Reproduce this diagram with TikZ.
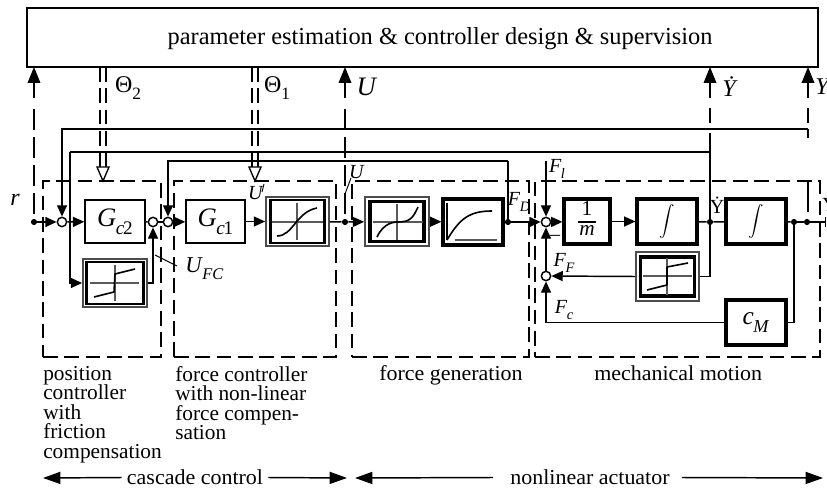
\documentclass[tikz,border=0pt]{standalone}
\usepackage{fontspec}
\setmainfont{Liberation Serif}
\usetikzlibrary{arrows.meta}
\newcommand{\fs}[1]{\fontsize{#1}{#1}\selectfont}
\newcommand{\isub}[2]{\textit{#1}\kern-0.02em\raisebox{-0.3em}{\scalebox{0.72}{\textit{#2}}}}
\newcommand{\numsub}[1]{\raisebox{-0.3em}{\scalebox{0.72}{#1}}}
\newcommand{\wider}[1]{\scalebox{1.03}[1]{#1}}
\tikzset{
  x=0.75pt,y=-0.75pt,
  sig/.style={line width=1.1pt,-{Triangle[length=8.5pt,width=7.5pt]}},
  lin/.style={line width=1.1pt},
  bigarr/.style={line width=1.1pt,-{Triangle[length=12pt,width=9.5pt]}},
  dashsig/.style={line width=1.1pt,dash pattern=on 15.75pt off 5.25pt},
  paramdash/.style={line width=1pt,dash pattern=on 11pt off 5pt},
  groupbox/.style={draw,line width=1.1pt,dash pattern=on 11pt off 5pt},
  hair/.style={line width=0.7pt},
  axis/.style={line width=0.8pt,black!65},
  curve/.style={line width=1.2pt,line join=round},
  bx/.style n args={2}{draw,line width=1.1pt,inner sep=0pt,minimum width=#1*0.75pt,minimum height=#2*0.75pt},
  tbx/.style n args={2}{draw,line width=2.4pt,inner sep=0pt,minimum width=#1*0.75pt,minimum height=#2*0.75pt},
  ibx/.style n args={2}{draw,line width=1.9pt,inner sep=0pt,minimum width=#1*0.75pt,minimum height=#2*0.75pt},
  obx/.style n args={2}{draw=black!70,line width=1.3pt,inner sep=0pt,minimum width=#1*0.75pt,minimum height=#2*0.75pt},
  sum/.style={circle,draw,fill=white,line width=1.1pt,inner sep=0pt,minimum size=7pt},
  dot/.style={circle,fill=black,inner sep=0pt,minimum size=4.6pt},
  txt/.style={font=\fs{16},inner sep=0pt},
  captxt/.style={font=\fontsize{16}{14.6}\selectfont,inner sep=0pt,align=left,anchor=north west},
  lbl/.style={font=\fs{15},inner sep=0pt},
  bar/.style={line width=1.1pt,-{Triangle[length=13pt,width=9pt]}},
}
\begin{document}
\begin{tikzpicture}
\useasboundingbox (0,0) rectangle (827,488);
% top block
\node[draw,line width=1.1pt,inner sep=0pt,minimum width=791*0.75pt,minimum height=59*0.75pt] (est) at (422.5,37.5) {};
\node[font=\fs{18.3},inner sep=0pt] (esttxt) at (440,38.5) {parameter estimation \& controller design \& supervision};
% group frames
\node[groupbox,inner sep=0pt,minimum width=118*0.75pt,minimum height=176*0.75pt] (ga) at (102,269) {};
\node[groupbox,inner sep=0pt,minimum width=162*0.75pt,minimum height=176*0.75pt] (gb) at (255,269) {};
\node[groupbox,inner sep=0pt,minimum width=177*0.75pt,minimum height=176*0.75pt] (gc) at (440.5,269) {};
\node[groupbox,inner sep=0pt,minimum width=285*0.75pt,minimum height=176*0.75pt] (gd) at (677.5,269) {};
% blocks
\node[bx={60}{43},font=\fs{20}] (gc2) at (115,221.5) {\isub{G}{c}\kern-0.05em\numsub{2}};
\node[bx={59}{43},font=\fs{20}] (gc1) at (215.5,221.5) {\isub{G}{c}\kern-0.05em\numsub{1}};
\node[obx={63}{49}] (sat) at (297.5,221.5) {};
\node[ibx={54}{43}] (satin) at (297.5,221.5) {};
\node[obx={64}{48}] (fric) at (115,283) {};
\node[ibx={57}{42}] (fricin) at (115,283) {};
\node[obx={64}{49}] (fg) at (397,221.5) {};
\node[tbx={54}{40}] (fgin) at (397,221.5) {};
\node[tbx={60}{46}] (fgb) at (473,222) {};
\node[tbx={46}{45},font=\fontsize{16}{14}\selectfont] (mass) at (587,221.5) {\tabcolsep=0.7pt\arrayrulewidth=0.9pt\begin{tabular}{c}1\\\hline\textit{m}\end{tabular}};
\node[tbx={60}{45}] (int1) at (667,221.5) {\scalebox{1.15}{$\displaystyle\int$}};
\node[tbx={60}{45}] (int2) at (756,221.5) {\scalebox{1.15}{$\displaystyle\int$}};
\node[obx={63}{49}] (fricb) at (667.5,276.5) {};
\node[tbx={54}{39}] (fricbin) at (667.5,276.5) {};
\node[tbx={60}{45},font=\fs{19}] (cm) at (756,322.5) {\isub{c}{M}};
% block pictograms
\draw[axis] (272,222) -- (323,222);
\draw[axis] (297,203) -- (297,240);
\draw[curve] (277,236) .. controls (293,236) and (296,212) .. (317,208);
\draw[axis] (373,222) -- (423,222);
\draw[axis] (397,204) -- (397,240);
\draw[curve] (377,237) .. controls (384,222) and (395,222) .. (398,222) .. controls (410,222) and (413,218) .. (418,207);
\draw[line width=1pt] (447,203) -- (447,240);
\draw[axis] (455,240) -- (497,240);
\draw[curve] (447,240) .. controls (460,218) and (470,211) .. (492,211);
\draw[axis] (90,283) -- (139,283);
\draw[axis] (115,265) -- (115,301);
\draw[curve] (94,297) -- (114,292) -- (115,274) -- (135,269);
\draw[axis] (643,276) -- (692,276);
\draw[axis] (667,258) -- (667,295);
\draw[curve] (647,290) -- (667,285) -- (667,267) -- (688,263);
% summing points and branch points
\node[sum] (s1) at (62,222) {};
\node[sum] (s2) at (153,222) {};
\node[sum] (s3) at (168,222) {};
\node[sum] (s4) at (546,222) {};
\node[sum] (s5) at (546,276) {};
\node[dot] (dr) at (34,222) {};
\node[dot] (du) at (345,222) {};
\node[dot] (dfd) at (508,222) {};
\node[dot] (dv) at (710,222) {};
\node[dot] (dp) at (794,222) {};
\node[dot] (dy) at (807,222) {};
\coordinate (yend) at (826,222);
\coordinate (tr) at (34,67);
\coordinate (tu) at (345,67);
\coordinate (tv) at (710,67);
\coordinate (ty) at (808,67);
\coordinate (sr) at (34,98);
\coordinate (su) at (345,98);
\coordinate (sv) at (710,98);
\coordinate (sy) at (808,98);
\coordinate (gr) at (34,109);
\coordinate (gu) at (345,109);
\coordinate (vd1) at (710,108);
\coordinate (vd2) at (710,123);
\coordinate (yd1) at (808,108);
\coordinate (yd2) at (808,123);
\coordinate (jy) at (808,129);
\coordinate (jy2) at (808,138);
\coordinate (jy3) at (808,181);
\coordinate (jy4) at (808,212);
\coordinate (jv) at (710,152);
\coordinate (jv2) at (710,133);
\coordinate (k1) at (70,152);
\coordinate (fl) at (546,161);
\coordinate (jfd) at (508,161);
% main path
\draw[sig] (dr) -- (s1);
\draw[sig] (s1) -- (gc2);
\draw[lin] (gc2) -- (s2);
\draw[lin] (s2) -- (s3);
\draw[sig] (s3) -- (gc1);
\draw[sig] (gc1) -- (sat);
\draw[lin] (sat) -- (du);
\draw[sig] (du) -- (fg);
\draw[sig] (fg) -- (fgb);
\draw[lin] (fgb) -- (dfd);
\draw[sig] (dfd) -- (s4);
\draw[sig] (s4) -- (mass);
\draw[sig] (mass) -- (int1);
\draw[lin] (int1) -- (dv);
\draw[lin] (dv) -- (int2);
\draw[lin] (int2) -- (dp);
\draw[lin] (dp) -- (dy);
\draw[lin,-{Bar[width=7pt]}] (dy) -- (yend);
% friction compensation
\draw[sig] (k1) |- (fric.west);
\draw[sig] (fric.east) -| (s2);
% feedback lines
\draw[sig] (jy) -| (s1);
\draw[lin] (jv) -- (k1);
\draw[sig] (jfd) -| (s3);
\draw[lin] (dfd) -- (jfd);
\draw[sig] (fl) -- (s4);
% mechanical motion
\draw[lin] (jv2) -- (dv);
\draw[lin] (dv) |- (fricb.east);
\draw[sig] (fricb.west) -- (s5);
\draw[sig] (s5) -- (s4);
\draw[sig] (cm.west) -| (s5);
\draw[lin] (cm.east) -| (dp);
% signals up to the estimator
\draw[dashsig] (gr) -- (dr);
\draw[bigarr] (sr) -- (tr);
\draw[dashsig] (gu) -- (du);
\draw[bigarr] (su) -- (tu);
\draw[lin] (vd1) -- (vd2);
\draw[bigarr] (sv) -- (tv);
\draw[lin] (jy4) -- (jy3);
\draw[lin] (jy2) -- (jy);
\draw[lin] (yd1) -- (yd2);
\draw[bigarr] (sy) -- (ty);
% parameter lines
\coordinate (pa1) at (100,67); \coordinate (pa2) at (106,67);
\coordinate (pb1) at (252,67); \coordinate (pb2) at (258,67);
\coordinate (qa1) at (100,167); \coordinate (qa2) at (106,167);
\coordinate (qb1) at (252,167); \coordinate (qb2) at (258,167);
\draw[paramdash] (pa1) -- (qa1);
\draw[paramdash] (pa2) -- (qa2);
\draw[paramdash] (pb1) -- (qb1);
\draw[paramdash] (pb2) -- (qb2);
\coordinate (tipa) at (103,181);
\coordinate (tipb) at (255,181);
\draw[line width=1pt,fill=white] (97,167) -- (109,167) -- (tipa) -- cycle;
\draw[line width=1pt,fill=white] (249,167) -- (261,167) -- (tipb) -- cycle;
% tick marks
\coordinate (ta) at (155,255); \coordinate (tb) at (177,266);
\draw[hair] (ta) -- (tb);
\coordinate (tc) at (345,194); \coordinate (td) at (351,178);
\draw[hair] (tc) -- (td);
\coordinate (te) at (262,192); \coordinate (tf) at (264,184);
\draw[hair] (te) -- (tf);
% signal labels
\node[font=\fs{18},inner sep=0pt] (lr) at (15,200) {\textit{r}};
\node[font=\fs{18},inner sep=0pt] (lt2) at (128,88) {Θ\numsub{2}};
\node[font=\fs{18},inner sep=0pt] (lt1) at (277,88) {Θ\numsub{1}};
\node[font=\fs{20},inner sep=0pt] (lu) at (367,87) {\textit{U}};
\node[font=\fs{18},inner sep=0pt] (lyd) at (730,87) {\textit{\.{Y}}};
\node[font=\fs{18},inner sep=0pt,anchor=west] (ly) at (815,87) {\textit{Y}};
\node[lbl] (lu1) at (256,193) {\textit{U}};
\node[lbl] (lu2) at (357,172) {\textit{U}};
\node[font=\fs{17},inner sep=0pt,anchor=west] (lufc) at (185,269) {\isub{U}{FC}};
\node[lbl] (lfd) at (519,202) {\isub{F}{D}};
\node[lbl] (lfl) at (557,169) {\isub{F}{l}};
\node[lbl] (lff) at (564,263) {\isub{F}{F}};
\node[lbl] (lfc) at (564,310) {\isub{F}{c}};
\node[lbl] (lminus) at (555,238) {--};
\node[font=\fs{15},inner sep=0pt] (lyu) at (717,205) {\.{Y}};
\node[font=\fs{15},inner sep=0pt,anchor=west] (lyo) at (822,205) {Y};
% captions
\node[captxt] (c1) at (43,366) {position\\controller\\with\\friction\\compensation};
\node[captxt] (c2) at (175,366) {force controller\\with non-linear\\force compen-\\sation};
\node[txt,anchor=base west] (c3) at (379,380) {\wider{force generation}};
\node[txt,anchor=base west] (c4) at (594,380) {\wider{mechanical motion}};
\node[txt] (cc) at (195,477.5) {\wider{cascade control}};
\node[txt] (na) at (590,477.5) {\wider{nonlinear actuator}};
\coordinate (a1) at (43,478); \coordinate (a2) at (347,478);
\coordinate (a3) at (355,478); \coordinate (a4) at (823,478);
\draw[bar] (cc.west) ++(-5,0) -- (a1);
\draw[bar] (cc.east) ++(5,0) -- (a2);
\draw[bar] (na.west) ++(-17,0) -- (a3);
\draw[bar] (na.east) ++(12,0) -- (a4);
\end{tikzpicture}
\end{document}
